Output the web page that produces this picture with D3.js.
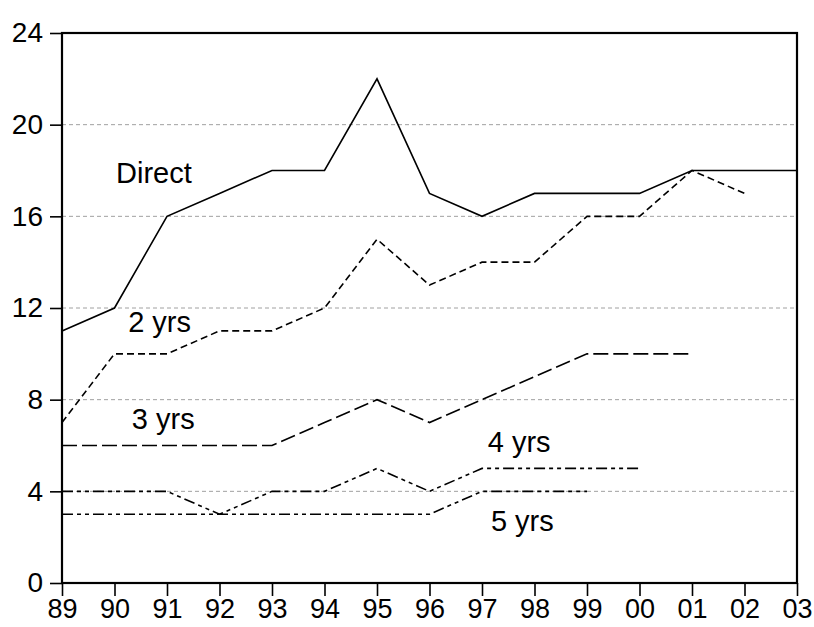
<!DOCTYPE html>
<html><head><meta charset="utf-8">
<script src="https://cdn.jsdelivr.net/npm/d3@7/dist/d3.min.js"></script>
<style>body{margin:0;background:#fff}svg{display:block}text{font-family:"Liberation Sans",Arial,sans-serif}</style>
</head><body>
<svg id="c" width="814" height="627"></svg>
<script>
const years = ["89","90","91","92","93","94","95","96","97","98","99","00","01","02","03"];
const direct = [11,12,16,17,18,18,22,17,16,17,17,17,18,18,18];
const yrs2 = [7,10,10,11,11,12,15,13,14,14,16,16,18,17];
const yrs3 = [6,6,6,6,6,7,8,7,8,9,10,10,10];
const yrs4 = [4,4,4,3,4,4,5,4,5,5,5,5];
const yrs5 = [3,3,3,3,3,3,3,3,4,4,4];
const yTicks = [0,4,8,12,16,20,24];
const labels = ["Direct","2 yrs","3 yrs","4 yrs","5 yrs"];
const labelYear = [90.03,90.26,90.33,97.11,97.17];
const labelVal = [17.45,10.95,6.72,5.72,2.27];

const svg = d3.select("#c");
const L=62,R=797,T=33,B=583;
const x = d3.scaleLinear().domain([0,years.length-1]).range([L,R]);
const y = d3.scaleLinear().domain([0,24]).range([B,T]);

// gridlines
svg.append("g").selectAll("line").data(yTicks.filter(v=>v>0&&v<24)).join("line")
  .attr("x1",L).attr("x2",R).attr("y1",d=>y(d)).attr("y2",d=>y(d))
  .attr("stroke","#a0a0a0").attr("stroke-width",1).attr("stroke-dasharray","4,3");

const series = [
  {v:direct, dash:null},
  {v:yrs2, dash:"7,4"},
  {v:yrs3, dash:"15,5"},
  {v:yrs4, dash:"11,4,4,4,4,4"},
  {v:yrs5, dash:"11,4,4,4,4,4"}
];
const line = d3.line().x((d,i)=>x(i)).y(d=>y(d));
svg.append("g").selectAll("path").data(series).join("path")
  .attr("d",d=>line(d.v)).attr("fill","none").attr("stroke","#000")
  .attr("stroke-width",1.6).attr("stroke-dasharray",d=>d.dash);

// frame
svg.append("rect").attr("x",L).attr("y",T).attr("width",R-L).attr("height",B-T)
  .attr("fill","none").attr("stroke","#000").attr("stroke-width",2.2);

// axes
const yAxis = d3.axisLeft(y).tickValues(yTicks).tickSize(12).tickPadding(7);
const gy = svg.append("g").attr("transform",`translate(${L},0)`).call(yAxis);
gy.select(".domain").remove();
gy.selectAll("text").attr("font-size",28).attr("fill","#000");
gy.selectAll("line").attr("stroke-width",1.6);

const xAxis = d3.axisBottom(x).tickValues(d3.range(years.length)).tickFormat(i=>years[i]).tickSize(13).tickPadding(3);
const gx = svg.append("g").attr("transform",`translate(0,${B})`).call(xAxis);
gx.select(".domain").remove();
gx.selectAll("text").attr("font-size",27).attr("fill","#000");
gx.selectAll("line").attr("stroke-width",1.6);

// labels
const yearNum = v => v - 89;
svg.append("g").selectAll("text").data(labels).join("text")
  .attr("x",(d,i)=>x(yearNum(labelYear[i]))).attr("y",(d,i)=>y(labelVal[i]))
  .attr("font-size",29).attr("fill","#000").text(d=>d);
</script>
</body></html>
